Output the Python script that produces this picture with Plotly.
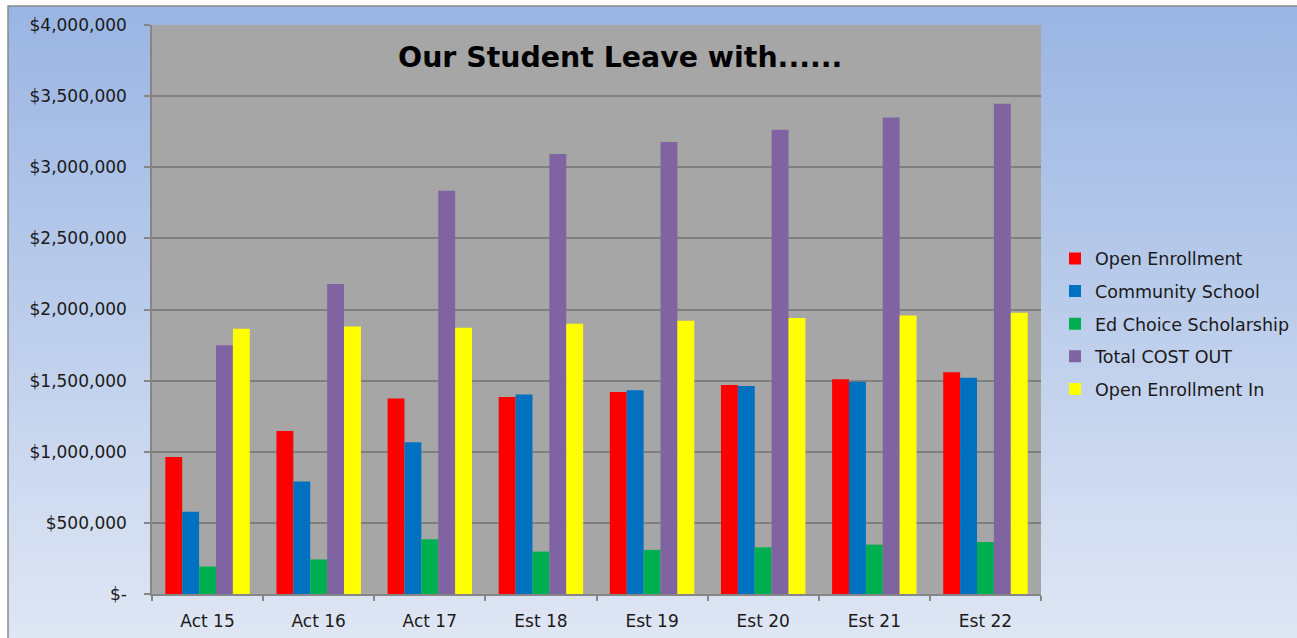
import base64
import plotly.graph_objects as go

categories = ["Act 15", "Act 16", "Act 17", "Est 18", "Est 19", "Est 20", "Est 21", "Est 22"]
open_enrollment = [963000, 1145000, 1375000, 1385000, 1420000, 1470000, 1510000, 1558000]
community_school = [578000, 790000, 1067000, 1402000, 1432000, 1462000, 1492000, 1520000]
ed_choice = [193000, 243000, 385000, 298000, 310000, 328000, 347000, 366000]
total_cost_out = [1749000, 2180000, 2835000, 3093000, 3178000, 3264000, 3350000, 3446000]
open_enrollment_in = [1864000, 1881000, 1872000, 1900000, 1921000, 1940000, 1958000, 1978000]

series_names = ["Open Enrollment", "Community School", "Ed Choice Scholarship",
                "Total COST OUT", "Open Enrollment In"]
series_values = [open_enrollment, community_school, ed_choice, total_cost_out, open_enrollment_in]
series_colors = ["#FF0000", "#0070C0", "#00B050", "#8064A2", "#FFFF00"]

y_tick_vals = [0, 500000, 1000000, 1500000, 2000000, 2500000, 3000000, 3500000, 4000000]
y_tick_text = ["$-", "$500,000", "$1,000,000", "$1,500,000", "$2,000,000",
               "$2,500,000", "$3,000,000", "$3,500,000", "$4,000,000"]

W, H = 1297, 638
ML, MR, MT, MB = 152, W - 1041, 25, H - 594
PW, PH = W - ML - MR, H - MT - MB
FONT = "DejaVu Sans"
TXT = "#1A1A1A"

fig = go.Figure()
for name, vals, col in zip(series_names, series_values, series_colors):
    fig.add_trace(go.Bar(x=categories, y=vals, name=name, legendgroup=name,
                         marker=dict(color=col, line=dict(width=0))))

# gradient background (chart area) as an SVG image
svg = ('<svg xmlns="http://www.w3.org/2000/svg" width="100" height="100" preserveAspectRatio="none">'
       '<defs><linearGradient id="g" x1="0" y1="0" x2="0" y2="1">'
       '<stop offset="0" stop-color="#9AB5E3"/><stop offset="1" stop-color="#E0E7F4"/>'
       '</linearGradient></defs><rect width="100" height="100" fill="url(#g)"/></svg>')
src = "data:image/svg+xml;base64," + base64.b64encode(svg.encode()).decode()

def px_x(p):
    return (p - ML) / PW

def px_y(p):
    return 1 - (p - MT) / PH

fx0, fy0 = 8, 6
fig.add_layout_image(dict(source=src, xref="paper", yref="paper",
                          x=px_x(fx0), y=px_y(fy0), sizex=(W + 10 - fx0) / PW,
                          sizey=(H + 10 - fy0) / PH, xanchor="left", yanchor="top",
                          sizing="stretch", layer="below"))
# frame border
fig.add_shape(type="rect", xref="paper", yref="paper",
              x0=px_x(fx0), x1=px_x(W + 10), y0=px_y(H + 10), y1=px_y(fy0),
              line=dict(color="#8A8A8A", width=1.5), fillcolor="rgba(0,0,0,0)", layer="below")
# gray plot area
fig.add_shape(type="rect", xref="x domain", yref="y domain", x0=0, x1=1, y0=0, y1=1,
              fillcolor="#A6A6A6", line=dict(width=0), layer="below")

fig.add_annotation(text="<b>Our Student Leave with......</b>", xref="paper", yref="paper",
                   x=px_x(620), y=px_y(57), showarrow=False, xanchor="center", yanchor="middle",
                   font=dict(family=FONT, size=28.4, color="#000000"))

fig.update_layout(
    width=W, height=H,
    margin=dict(l=ML, r=MR, t=MT, b=MB, pad=0, autoexpand=False),
    paper_bgcolor="#FFFFFF",
    plot_bgcolor="rgba(0,0,0,0)",
    barmode="group", bargap=0.24, bargroupgap=0,
    font=dict(family=FONT, size=17, color=TXT),
    legend=dict(xref="container", yref="container", x=1055 / W, xanchor="left",
                y=1 - 240.5 / H, yanchor="top",
                bgcolor="rgba(0,0,0,0)", tracegroupgap=6.9,
                font=dict(family=FONT, size=17.5, color=TXT)),
    xaxis=dict(type="category", automargin=False, showgrid=False, showline=True,
               linecolor="#868686", linewidth=1.5,
               ticks="outside", tickson="boundaries", ticklen=5, tickcolor="#868686", tickwidth=1.5,
               ticklabelstandoff=11, tickfont=dict(family=FONT, size=17, color=TXT)),
    yaxis=dict(range=[0, 4000000], automargin=False, tickvals=y_tick_vals, ticktext=y_tick_text,
               showgrid=True, gridcolor="#808080", gridwidth=1.5, zeroline=False,
               showline=True, linecolor="#868686", linewidth=1.5,
               ticks="outside", ticklen=6, tickcolor="#868686", tickwidth=1.5,
               ticklabelstandoff=14, tickfont=dict(family=FONT, size=17, color=TXT)),
)

fig.write_html("out.html", config={"displayModeBar": False},
               post_script="document.body.style.margin='0';document.body.style.padding='0';")
